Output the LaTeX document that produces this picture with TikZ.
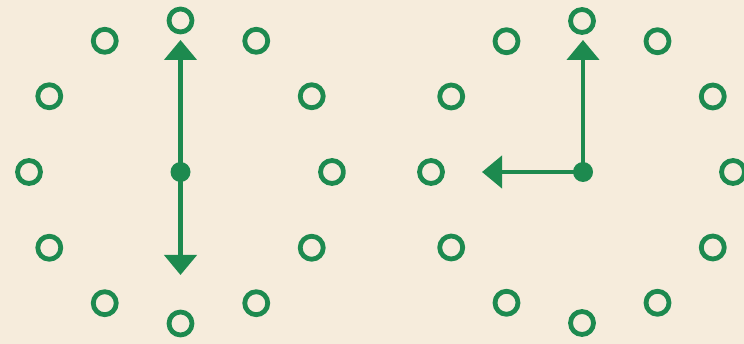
\documentclass[tikz,border=0pt]{standalone}
\usetikzlibrary{arrows.meta}
\definecolor{bg}{HTML}{F6ECDC}
\definecolor{gr}{HTML}{1D8A4F}
\begin{document}
\begin{tikzpicture}[x=1pt,y=-1pt,
  tick/.style={circle,draw=gr,line width=4.8pt,minimum size=23pt,inner sep=0pt},
  hub/.style={circle,fill=gr,minimum size=20pt,inner sep=0pt},
  hand/.style={draw=gr,line width=4.5pt,-{Triangle[width=32pt,length=20pt]}}]
\fill[bg] (0,0) rectangle (744,344);
\useasboundingbox (0,0) rectangle (744,344);
\begin{scope}
  \clip (0,0) rectangle (345.5,344);
  \foreach \i in {1,...,12}
    \node[tick] (a\i) at ({180.5+151.5*sin(30*\i)},{172-151.5*cos(30*\i)}) {};
  \node[hub] (ha) at (180.5,172) {};
  \coordinate (am) at (180.5,40);
  \coordinate (ah) at (180.5,275);
  \draw[hand] (ha.center) -- (am);
  \draw[hand] (ha.center) -- (ah);
\end{scope}
\begin{scope}
  \clip (348,0) rectangle (744,344);
  \foreach \i in {1,...,12}
    \node[tick] (b\i) at ({582+151*sin(30*\i)},{172-151*cos(30*\i)}) {};
  \node[hub] (hb) at (583,172) {};
  \coordinate (bm) at (583,40);
  \coordinate (bh) at (482,172);
  \draw[hand] (hb.center) -- (bm);
  \draw[hand] (hb.center) -- (bh);
\end{scope}
\end{tikzpicture}
\end{document}
